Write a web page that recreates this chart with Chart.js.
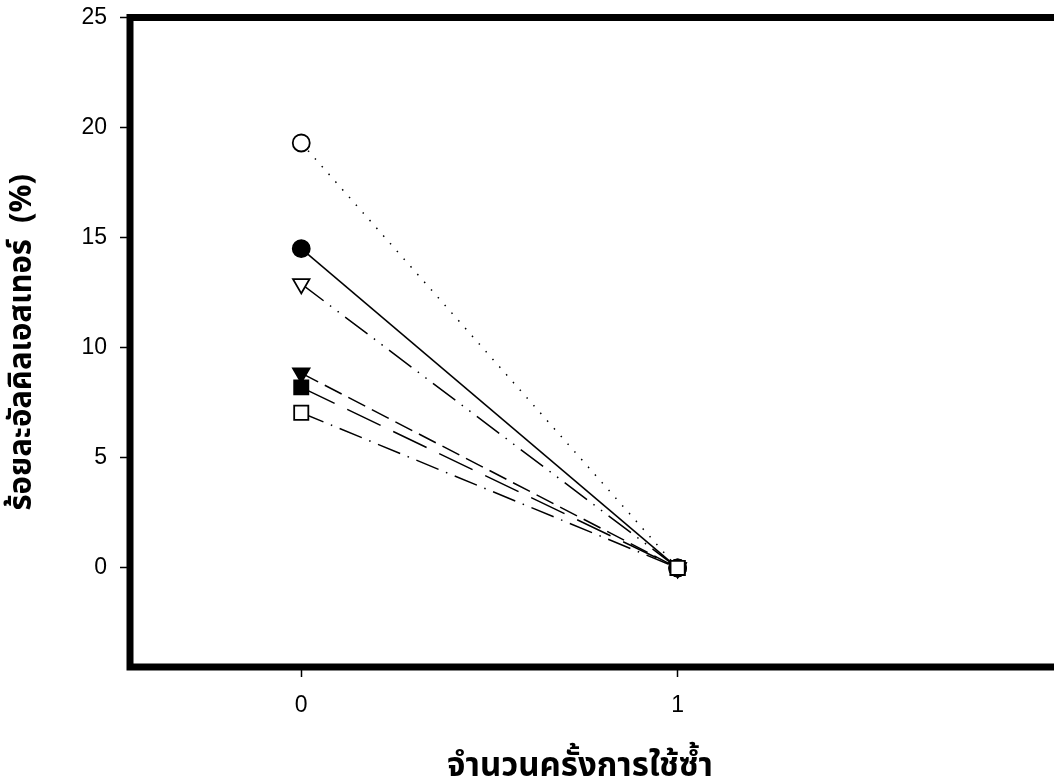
<!DOCTYPE html>
<html>
<head>
<meta charset="utf-8">
<script src="https://cdn.jsdelivr.net/npm/chart.js@4.4.1/dist/chart.umd.min.js"></script>
<style>
  html, body { margin: 0; padding: 0; background: #ffffff; }
  #wrap { width: 1054px; height: 783px; position: relative; }
</style>
</head>
<body>
<div id="wrap"><canvas id="chart" width="1054" height="783"></canvas></div>
<script>
// Number of reuse cycles
const cycles = [0, 1];
const xTicks = [0, 1];
const yTicks = [0, 5, 10, 15, 20, 25];

// Alkyl ester content (%) per catalyst series
const seriesOpenCircle = [19.3, 0];
const seriesFilledCircle = [14.5, 0];
const seriesOpenTriangle = [12.9, 0];
const seriesFilledTriangle = [8.85, 0];
const seriesFilledSquare = [8.2, 0];
const seriesOpenSquare = [7.05, 0];

const xTitle = 'จำนวนครั้งการใช้ซ้ำ';
const yTitle = 'ร้อยละอัลคิลเอสเทอร์  (%)';

const thaiFont = "'Noto Sans Thai', 'Noto Sans Thai Looped', Tahoma, 'DejaVu Sans', 'Liberation Sans', sans-serif";
const numFont = "'Liberation Sans', Arial, sans-serif";

function pts(values) {
  return cycles.map((c, i) => ({ x: c, y: values[i] }));
}

function series(values, style, radius, filled, dash, rotation) {
  return {
    data: pts(values),
    borderColor: '#000',
    borderWidth: 1.5,
    borderDash: dash,
    pointStyle: style,
    pointRadius: radius,
    pointHoverRadius: radius,
    pointRotation: rotation || 0,
    pointBackgroundColor: filled ? '#000' : '#fff',
    pointBorderColor: '#000',
    pointBorderWidth: 1.8,
    fill: false,
    tension: 0
  };
}

// Dataset 0 is painted last, so the open square sits on top at cycle 1
const datasets = [
  series(seriesOpenSquare, 'rect', 10, false, [24, 8, 1.5, 8]),
  series(seriesFilledSquare, 'rect', 10, true, [37, 14]),
  series(seriesFilledTriangle, 'triangle', 9.5, true, [19, 7.5], 180),
  series(seriesOpenTriangle, 'triangle', 9.5, false, [28, 8, 1.5, 8, 1.5, 8], 180),
  series(seriesFilledCircle, 'circle', 8.5, true, []),
  series(seriesOpenCircle, 'circle', 8.5, false, [1.5, 8.8])
];

// Heavy frame on the top, left and bottom of the plot area, plus the x-axis caption
const framePlugin = {
  id: 'frame',
  afterDraw(chart) {
    const { ctx, chartArea: a } = chart;
    ctx.save();
    ctx.strokeStyle = '#000';
    ctx.lineWidth = 7;
    ctx.lineCap = 'square';
    ctx.lineJoin = 'miter';
    ctx.beginPath();
    ctx.moveTo(a.right + 10, a.top);
    ctx.lineTo(a.left, a.top);
    ctx.lineTo(a.left, a.bottom);
    ctx.lineTo(a.right + 10, a.bottom);
    ctx.stroke();

    ctx.fillStyle = '#000';
    ctx.font = "bold 33px " + thaiFont;
    ctx.textAlign = 'center';
    ctx.textBaseline = 'alphabetic';
    ctx.fillText(xTitle, (a.left + a.right) / 2 - 12, 776);
    ctx.restore();
  }
};

function noEdgePadding(s) {
  s.paddingLeft = 0;
  s.paddingRight = 0;
  s.paddingTop = 0;
  s.paddingBottom = 0;
}

new Chart(document.getElementById('chart'), {
  type: 'line',
  data: { datasets },
  plugins: [framePlugin],
  options: {
    responsive: false,
    animation: false,
    events: [],
    layout: { autoPadding: false, padding: { top: 17.5, right: 0, left: 0, bottom: 0 } },
    plugins: { legend: { display: false }, tooltip: { enabled: false } },
    scales: {
      x: {
        type: 'linear',
        min: -0.455,
        max: 2.0,
        afterBuildTicks: s => { s.ticks = xTicks.map(v => ({ value: v })); },
        afterFit: s => { s.height = 116; noEdgePadding(s); },
        border: { display: false },
        grid: { drawOnChartArea: false, color: '#000', tickLength: 10, tickWidth: 1.5 },
        ticks: { color: '#000', padding: 15, font: { family: numFont, size: 23 } },
        title: { display: false }
      },
      y: {
        type: 'linear',
        min: -4.5,
        max: 25,
        afterBuildTicks: s => { s.ticks = yTicks.map(v => ({ value: v })); },
        afterFit: s => { s.width = 130; noEdgePadding(s); },
        border: { display: false },
        grid: { drawOnChartArea: false, color: '#000', tickLength: 10, tickWidth: 1.5 },
        ticks: { color: '#000', padding: 13, font: { family: numFont, size: 23 } },
        title: {
          display: true, text: yTitle, color: '#000',
          font: { family: thaiFont, size: 31, weight: 'bold' },
          padding: { top: 6, bottom: 0 }
        }
      }
    }
  }
});
</script>
</body>
</html>
